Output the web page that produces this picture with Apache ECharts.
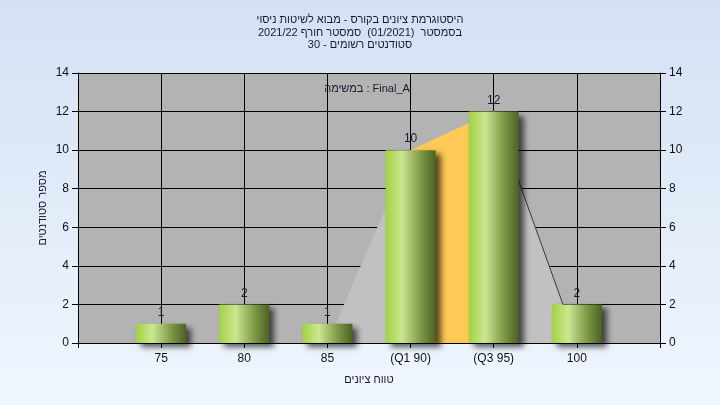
<!DOCTYPE html>
<html>
<head>
<meta charset="utf-8">
<script src="https://cdn.jsdelivr.net/npm/echarts@6/dist/echarts.min.js"></script>
<style>
html,body{margin:0;padding:0;}
#c{width:720px;height:405px;}
</style>
</head>
<body>
<div id="c"></div>
<script>
// ---- data ----
const titleLines = [
  'היסטוגרמת ציונים בקורס - מבוא לשיטות ניסוי',
  'בסמסטר  (01/2021)  סמסטר חורף 2021/22',
  'סטודנטים רשומים - 30'
];
const taskLabel = 'במשימה : Final_A';
const xAxisName = 'טווח ציונים';
const yAxisName = 'מספר סטודנטים';
const binValues = [75, 80, 85, 90, 95, 100];
const binLabels = ['75', '80', '85', '(Q1 90)', '(Q3 95)', '100'];
const counts = [1, 2, 1, 10, 12, 2];
// background distribution shape
const shapeX = [85, 90, 95, 100];
const shapeY = [0, 10, 12, 0];
// inter-quartile band
const iqrX = [90, 95];
const iqrY = [10, 12];
// outline on the right side of the shape
const edgeX = [95, 100];
const edgeY = [12, 0];

const labelMap = {};
binValues.forEach((v, i) => { labelMap[v] = binLabels[i]; });
const FONT = "'Liberation Sans', 'DejaVu Sans', Arial, sans-serif";

const chart = echarts.init(document.getElementById('c'));
const yAxisCommon = {
  type: 'value', min: 0, max: 14, interval: 2,
  axisLine: { show: true, lineStyle: { color: '#000', width: 1 } },
  axisTick: { show: true, inside: false, length: 6, lineStyle: { color: '#000' } },
  axisLabel: { color: '#111', fontSize: 12, fontFamily: FONT, margin: 9 },
};
chart.setOption({
  animation: false,
  backgroundColor: {
    type: 'linear', x: 0, y: 0, x2: 0, y2: 1,
    colorStops: [{ offset: 0, color: '#d4e1f3' }, { offset: 1, color: '#eff6fe' }]
  },
  title: [
    {
      text: titleLines.join('\n'), left: 'center', top: 9,
      textStyle: { fontSize: 11, fontWeight: 'normal', color: '#1a1a2e', fontFamily: FONT, lineHeight: 12.5 }
    },
    {
      text: taskLabel, left: 362, top: 78, textAlign: 'center',
      textStyle: { fontSize: 11, fontWeight: 'normal', color: '#1a1a2e', fontFamily: FONT }
    }
  ],
  grid: { left: 78, right: 60, top: 73, bottom: 62, show: true, backgroundColor: '#b3b3b3', borderWidth: 0 },
  xAxis: {
    type: 'value', min: 70, max: 105, interval: 5,
    name: xAxisName, nameLocation: 'middle', nameGap: 31,
    nameTextStyle: { fontSize: 11, color: '#1a1a2e', fontFamily: FONT },
    axisLine: { show: true, onZero: false, lineStyle: { color: '#000', width: 1 } },
    axisTick: { show: true, length: 5, lineStyle: { color: '#000' } },
    axisLabel: {
      fontSize: 12, color: '#111', fontFamily: FONT, margin: 10,
      formatter: v => labelMap[v] || ''
    },
    splitLine: { show: true, lineStyle: { color: '#000', width: 1 } }
  },
  yAxis: [
    Object.assign({}, yAxisCommon, {
      position: 'left',
      name: yAxisName, nameLocation: 'middle', nameGap: 30, nameRotate: 90,
      nameMoveOverlap: false,
      nameTextStyle: { fontSize: 11, color: '#1a1a2e', fontFamily: FONT },
      splitLine: { show: true, lineStyle: { color: '#000', width: 1 } }
    }),
    Object.assign({}, yAxisCommon, {
      position: 'right', splitLine: { show: false }
    })
  ],
  series: [
    {
      type: 'line', z: 1, symbol: 'none', silent: true,
      data: shapeX.map((x, i) => [x, shapeY[i]]),
      lineStyle: { width: 0, opacity: 0 },
      areaStyle: { color: '#c1c1c1', opacity: 1 }
    },
    {
      type: 'line', z: 2, symbol: 'none', silent: true,
      data: iqrX.map((x, i) => [x, iqrY[i]]),
      lineStyle: { width: 0, opacity: 0 },
      areaStyle: { color: '#ffc955', opacity: 1 }
    },
    {
      type: 'line', z: 3, symbol: 'none', silent: true,
      data: edgeX.map((x, i) => [x, edgeY[i]]),
      lineStyle: { width: 1, color: '#3a3a3a' }
    },
    {
      type: 'bar', z: 5, barWidth: 50,
      data: binValues.map((x, i) => [x, counts[i]]),
      itemStyle: {
        color: {
          type: 'linear', x: 0, y: 0, x2: 1, y2: 0,
          colorStops: [
            { offset: 0, color: '#a2d241' },
            { offset: 0.33, color: '#cce792' },
            { offset: 0.7, color: '#7e9948' },
            { offset: 1, color: '#4a6322' }
          ]
        },
        shadowColor: 'rgba(0,0,0,0.65)', shadowBlur: 6, shadowOffsetX: 5, shadowOffsetY: 4
      },
      label: {
        show: true, position: 'top', distance: 5,
        fontSize: 12, color: '#1a1a2e', fontFamily: FONT
      }
    }
  ]
});
</script>
</body>
</html>
